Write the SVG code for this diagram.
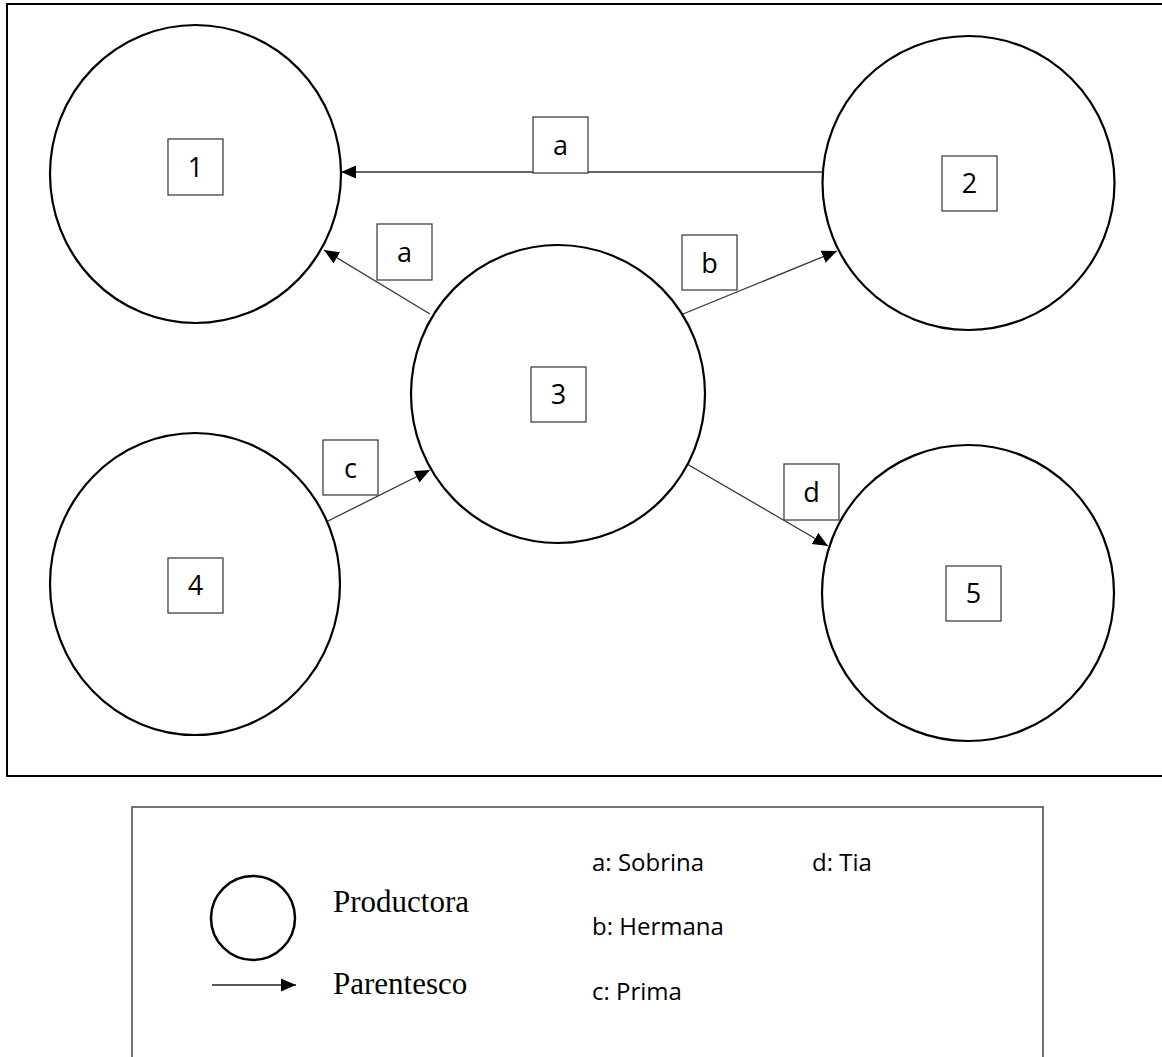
<svg xmlns="http://www.w3.org/2000/svg" width="1162" height="1057" viewBox="0 0 1162 1057">
<style>
.node{fill:#fff;stroke:#000;stroke-width:2.2}
.lbox{fill:#fff;stroke:#333;stroke-width:1.2}
.lbl{font-family:"Open Sans","Liberation Sans",sans-serif;font-size:27px;fill:#000;text-anchor:middle}
.conn{stroke:#333;stroke-width:1.3;fill:none;marker-end:url(#arr)}
.serif{font-family:"Liberation Serif","Times New Roman",serif;font-size:31px;fill:#000}
.key{font-family:"Open Sans","Liberation Sans",sans-serif;font-size:24px;fill:#000}
</style>
<defs>
<marker id="arr" markerUnits="userSpaceOnUse" markerWidth="16" markerHeight="14" refX="15" refY="6.5" orient="auto">
<path d="M0,0 L15,6.5 L0,13 z" fill="#000"/>
</marker>
</defs>
<rect x="0" y="0" width="1162" height="1057" fill="#fff"/>
<rect id="frame" x="7" y="4" width="1170" height="772" fill="none" stroke="#000" stroke-width="2"/>

<g id="connectors">
<line class="conn" x1="823" y1="172" x2="341" y2="172"/>
<line class="conn" x1="430" y1="314" x2="324" y2="250"/>
<line class="conn" x1="683" y1="314" x2="837" y2="251"/>
<line class="conn" x1="326" y1="522" x2="430" y2="470"/>
<line class="conn" x1="687" y1="464" x2="828" y2="546"/>
</g>

<g id="node1">
<ellipse class="node" cx="195.5" cy="174" rx="145.5" ry="149"/>
<rect class="lbox" x="168" y="139" width="55" height="56"/>
<text class="lbl" x="195.5" y="177">1</text>
</g>
<g id="node2">
<ellipse class="node" cx="968.5" cy="183" rx="146" ry="147"/>
<rect class="lbox" x="942" y="156" width="55" height="55"/>
<text class="lbl" x="969.5" y="193">2</text>
</g>
<g id="node3">
<ellipse class="node" cx="558" cy="394" rx="147" ry="149"/>
<rect class="lbox" x="531" y="367" width="55" height="55"/>
<text class="lbl" x="558.5" y="404">3</text>
</g>
<g id="node4">
<ellipse class="node" cx="195" cy="584" rx="145" ry="151"/>
<rect class="lbox" x="168" y="558" width="55" height="55"/>
<text class="lbl" x="195.5" y="595">4</text>
</g>
<g id="node5">
<ellipse class="node" cx="968" cy="593" rx="146" ry="148"/>
<rect class="lbox" x="946" y="566" width="55" height="55"/>
<text class="lbl" x="973.5" y="603">5</text>
</g>

<g id="edge-labels">
<rect class="lbox" x="533" y="117" width="55" height="56"/>
<text class="lbl" x="560.5" y="155">a</text>
<rect class="lbox" x="377" y="224" width="55" height="56"/>
<text class="lbl" x="404.5" y="262">a</text>
<rect class="lbox" x="682" y="235" width="55" height="55"/>
<text class="lbl" x="709.5" y="273">b</text>
<rect class="lbox" x="323" y="440" width="55" height="55"/>
<text class="lbl" x="350.5" y="478">c</text>
<rect class="lbox" x="784" y="464" width="55" height="56"/>
<text class="lbl" x="811.5" y="502">d</text>
</g>

<g id="legend">
<rect x="132" y="807" width="911" height="260" fill="#fff" stroke="#444" stroke-width="1.5"/>
<ellipse cx="253" cy="918" rx="42" ry="42" fill="none" stroke="#000" stroke-width="2.5"/>
<line x1="212" y1="985" x2="296" y2="985" stroke="#222" stroke-width="1.5" marker-end="url(#arr)"/>
<text class="serif" x="333" y="912">Productora</text>
<text class="serif" x="333" y="994">Parentesco</text>
<text class="key" x="592" y="871">a: Sobrina</text>
<text class="key" x="812" y="871">d: Tia</text>
<text class="key" x="592" y="935">b: Hermana</text>
<text class="key" x="592" y="1000">c: Prima</text>
</g>
</svg>
